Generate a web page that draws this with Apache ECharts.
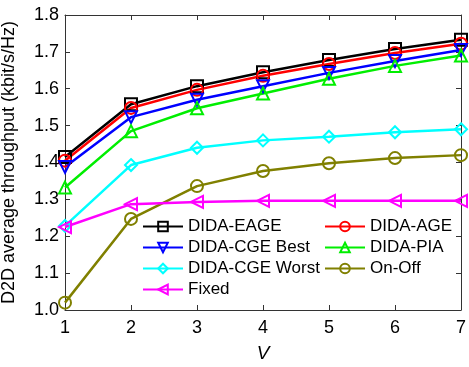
<!DOCTYPE html>
<html>
<head>
<meta charset="utf-8">
<script src="https://cdn.jsdelivr.net/npm/echarts@6/dist/echarts.min.js"></script>
<style>
  html, body { margin: 0; padding: 0; background: #fff; }
  #chart { width: 469px; height: 367px; }
</style>
</head>
<body>
<div id="chart"></div>
<script>
// Number of V values on the x axis
const vValues = [1, 2, 3, 4, 5, 6, 7];
const yTicks = [1.0, 1.1, 1.2, 1.3, 1.4, 1.5, 1.6, 1.7, 1.8];

// Average D2D throughput (kbit/s/Hz) for each scheme
const didaEage     = [1.415, 1.558, 1.607, 1.645, 1.678, 1.708, 1.733];
const didaAge      = [1.405, 1.548, 1.597, 1.635, 1.667, 1.697, 1.722];
const didaCgeBest  = [1.388, 1.523, 1.570, 1.607, 1.643, 1.675, 1.705];
const didaPia      = [1.332, 1.485, 1.547, 1.587, 1.627, 1.662, 1.690];
const didaCgeWorst = [1.228, 1.393, 1.440, 1.460, 1.470, 1.482, 1.490];
const onOff        = [1.020, 1.247, 1.336, 1.377, 1.398, 1.412, 1.420];
const fixed        = [1.225, 1.287, 1.293, 1.296, 1.296, 1.296, 1.296];

const FONT = 'Liberation Sans, Arial, sans-serif';

function mk(name, data, color, symbol, rotate) {
  return {
    name: name,
    type: 'line',
    data: vValues.map((v, i) => [v, data[i]]),
    symbol: symbol,
    symbolSize: 12,
    symbolRotate: rotate || 0,
    showAllSymbol: true,
    lineStyle: { color: color, width: 2.5 },
    itemStyle: { color: 'rgba(255,255,255,0)', borderColor: color, borderWidth: 2 },
    emphasis: { disabled: true },
    z: 2
  };
}

const series = [
  mk('DIDA-EAGE', didaEage, '#000000', 'rect'),
  mk('DIDA-AGE', didaAge, '#ff0000', 'circle'),
  mk('DIDA-CGE Best', didaCgeBest, '#0000ff', 'triangle', 180),
  mk('DIDA-PIA', didaPia, '#00ee00', 'triangle'),
  mk('DIDA-CGE Worst', didaCgeWorst, '#00ffff', 'diamond'),
  mk('On-Off', onOff, '#808000', 'circle'),
  mk('Fixed', fixed, '#ff00ff', 'triangle', 90)
];

const legendBase = {
  orient: 'vertical',
  itemWidth: 40,
  itemHeight: 12,
  itemGap: 4,
  textStyle: { fontFamily: FONT, fontSize: 17, color: '#000' },
  backgroundColor: 'rgba(0,0,0,0)',
  selectedMode: false
};

const axisCommon = {
  axisLine: { show: true, lineStyle: { color: '#333', width: 1 } },
  axisTick: { show: true, inside: true, length: 5, lineStyle: { color: '#333' } },
  splitLine: { show: false }
};

const chart = echarts.init(document.getElementById('chart'), null, { renderer: 'canvas' });
chart.setOption({
  animation: false,
  backgroundColor: '#fff',
  grid: { left: 65, top: 15, right: 8, bottom: 57, outerBoundsMode: 'none', containLabel: false },
  legend: [
    Object.assign({}, legendBase, {
      left: 137, top: 213,
      data: ['DIDA-EAGE', 'DIDA-CGE Best', 'DIDA-CGE Worst', 'Fixed']
    }),
    Object.assign({}, legendBase, {
      left: 319, top: 213,
      data: ['DIDA-AGE', 'DIDA-PIA', 'On-Off']
    })
  ],
  xAxis: [
    Object.assign({}, axisCommon, {
      type: 'value', min: vValues[0], max: vValues[vValues.length - 1], interval: 1,
      name: 'V', nameLocation: 'middle', nameGap: 34,
      nameTextStyle: { fontFamily: FONT, fontSize: 19, fontStyle: 'italic', color: '#000' },
      axisLabel: { fontFamily: FONT, fontSize: 18, color: '#000', margin: 9 }
    }),
    Object.assign({}, axisCommon, {
      type: 'value', position: 'top', min: vValues[0], max: vValues[vValues.length - 1], interval: 1,
      axisLabel: { show: false }
    })
  ],
  yAxis: [
    Object.assign({}, axisCommon, {
      type: 'value', min: yTicks[0], max: yTicks[yTicks.length - 1], interval: 0.1,
      name: 'D2D average throughput (kbit/s/Hz)', nameLocation: 'middle', nameGap: 47,
      nameTextStyle: { fontFamily: FONT, fontSize: 18, color: '#000' },
      axisLabel: { fontFamily: FONT, fontSize: 18, color: '#000', margin: 6,
        formatter: v => v.toFixed(1) }
    }),
    Object.assign({}, axisCommon, {
      type: 'value', position: 'right', min: yTicks[0], max: yTicks[yTicks.length - 1], interval: 0.1,
      axisLabel: { show: false }
    })
  ],
  series: series
});
</script>
</body>
</html>
